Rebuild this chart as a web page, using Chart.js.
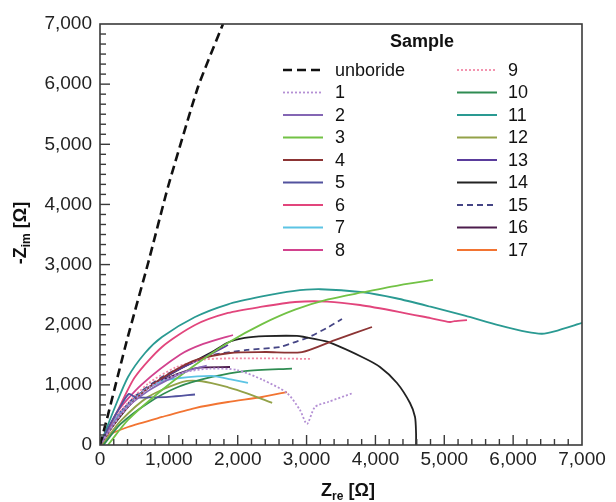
<!DOCTYPE html>
<html><head><meta charset="utf-8">
<script src="https://cdn.jsdelivr.net/npm/chart.js@4/dist/chart.umd.min.js"></script>
<style>html,body{margin:0;padding:0;background:#fff}canvas{display:block}</style>
</head><body>
<canvas id="c" width="616" height="502"></canvas>
<script>
// ---- data (Zre, -Zim) in ohm ----
const unboride = [[0,0],[100,430],[392,1746],[700,3030],[987,4290],[1423,5953],[1786,7000]];
const s1  = [[0,0],[300,500],[700,950],[1200,1200],[1600,1270],[1990,1247],[2367,1081],[2716,864],[2904,582],[3006,350],[3122,632],[3311,715],[3674,864]];
const s2  = [[0,0],[300,520],[700,900],[1100,1150],[1350,1260],[1550,1320]];
const s3  = [[116,0],[407,416],[900,914],[1380,1330],[1859,1700],[2353,2010],[2832,2250],[3311,2420],[3820,2540],[4357,2660],[4836,2744]];
const s4  = [[0,0],[300,500],[700,950],[1100,1250],[1409,1420],[1888,1530],[2400,1546],[2933,1546],[3400,1740],[3950,1962]];
const s5  = [[0,0],[150,350],[300,650],[420,850],[520,790],[700,790],[1000,800],[1380,840]];
const s6  = [[0,0],[44,83],[261,582],[508,1131],[900,1630],[1380,1995],[1859,2195],[2353,2300],[2832,2378],[3300,2385],[3776,2328],[4357,2211],[4800,2110],[5083,2045],[5150,2060],[5330,2078]];
const s7  = [[0,0],[200,400],[654,914],[900,1060],[1133,1110],[1626,1150],[1900,1090],[2149,1031]];
const s8  = [[0,0],[250,550],[600,1000],[1162,1500],[1500,1680],[1931,1829]];
const s9  = [[0,0],[300,560],[700,1020],[1100,1290],[1500,1420],[1931,1440],[2500,1440],[3079,1430]];
const s10 = [[50,0],[300,350],[700,700],[1133,964],[1626,1131],[2106,1230],[2788,1270]];
const s11 = [[0,0],[29,83],[218,632],[407,1131],[654,1530],[900,1796],[1380,2128],[1859,2340],[2353,2470],[2800,2560],[3200,2590],[3820,2540],[4300,2440],[4800,2300],[5300,2150],[5800,1990],[6200,1880],[6420,1850],[6600,1890],[7000,2030]];
const s12 = [[30,0],[300,400],[700,800],[1200,1050],[1480,1060],[1860,960],[2135,860],[2500,700]];
const s13 = [[0,0],[300,550],[700,950],[1100,1230],[1500,1450],[1859,1663]];
const s14 = [[0,0],[100,180],[407,632],[654,914],[1133,1247],[1626,1546],[1850,1700],[2100,1780],[2400,1810],[2860,1815],[2950,1800],[3311,1713],[3805,1463],[4066,1297],[4313,1031],[4502,698],[4575,466],[4590,200],[4590,0]];
const s15 = [[0,0],[200,380],[500,800],[900,1130],[1162,1280],[1641,1497],[2135,1580],[2614,1630],[2800,1700],[3006,1779],[3300,1950],[3514,2095]];
const s16 = [[0,0],[300,550],[700,950],[1100,1170],[1400,1280],[1888,1297]];
const s17 = [[0,0],[73,133],[407,299],[900,466],[1380,615],[1859,715],[2353,798],[2716,881]];

const seriesNames = ['unboride','1','2','3','4','5','6','7','8','9','10','11','12','13','14','15','16','17'];
const seriesData  = [unboride,s1,s2,s3,s4,s5,s6,s7,s8,s9,s10,s11,s12,s13,s14,s15,s16,s17];
const seriesColors = ['#111111','#b490d4','#8466b4','#72c245','#8c3434','#52529e','#e2457c','#5cc4e4','#d2428e','#f28aa8','#2f8c52','#2a9a92','#93a248','#5a3c9c','#222222','#454585','#4c1c4c','#f27432'];
const seriesDash = [[9,5],[2,2],[],[],[],[],[],[],[],[2,2],[],[],[],[],[],[6,4],[],[]];
const axisMax = 7000, majorStep = 1000;

const FONT = '"Liberation Sans", Arial, sans-serif';

const datasets = seriesNames.map((n,i)=>({
  label: n,
  data: seriesData[i].map(p=>({x:p[0],y:p[1]})),
  borderColor: seriesColors[i],
  backgroundColor: seriesColors[i],
  borderDash: seriesDash[i],
  borderWidth: i===0 ? 2.6 : 1.8,
  showLine: true, pointRadius: 0, tension: i===0 ? 0.15 : 0.25, fill: false
}));

const decor = {
  id: 'decor',
  afterDatasetsDraw(chart){
    const ctx = chart.ctx, a = chart.chartArea;
    const xs = chart.scales.x, ys = chart.scales.y;
    ctx.save();
    // frame
    ctx.strokeStyle = '#3a3a3a'; ctx.lineWidth = 1.6;
    ctx.strokeRect(a.left, a.top, a.right-a.left, a.bottom-a.top);
    // inward ticks
    ctx.lineWidth = 1.4;
    for (let k=1;k<35;k++){ const v=k*200; const px=xs.getPixelForValue(v);
      const L = (v%1000===0)?10:6;
      ctx.beginPath(); ctx.moveTo(px,a.bottom); ctx.lineTo(px,a.bottom-L); ctx.stroke(); }
    for (let k=1;k<42;k++){ const v=k*1000/6; const py=ys.getPixelForValue(v);
      const L = (k%6===0)?10:6;
      ctx.beginPath(); ctx.moveTo(a.left,py); ctx.lineTo(a.left+L,py); ctx.stroke(); }
    // legend
    ctx.fillStyle = '#111';
    ctx.font = 'bold 18px ' + FONT; ctx.textAlign='center'; ctx.textBaseline='middle';
    ctx.fillText('Sample', 422, 42);
    ctx.font = '18px ' + FONT; ctx.textAlign='left';
    chart.data.datasets.forEach((d,i)=>{
      const col = i<9 ? 0 : 1, row = i<9 ? i : i-9;
      const lx = col===0 ? 283 : 457, tx = col===0 ? 335 : 508;
      const y = 70 + row*22.5;
      ctx.strokeStyle = d.borderColor; ctx.lineWidth = d.borderWidth;
      ctx.setLineDash(d.borderDash||[]);
      ctx.beginPath(); ctx.moveTo(lx,y); ctx.lineTo(lx+40,y); ctx.stroke();
      ctx.setLineDash([]);
      ctx.fillStyle='#111'; ctx.fillText(d.label, tx, y+1);
    });
    // axis titles
    ctx.fillStyle='#111'; ctx.textBaseline='alphabetic'; ctx.textAlign='left';
    const drawTitle = (x,y,pre,main,sub,post)=>{
      ctx.font='bold 18px '+FONT;
      let w1=ctx.measureText(pre+main).width;
      ctx.font='bold 12px '+FONT; let w2=ctx.measureText(sub).width;
      ctx.font='bold 18px '+FONT; let w3=ctx.measureText(post).width;
      let x0 = x-(w1+w2+w3)/2;
      ctx.fillText(pre+main,x0,y);
      ctx.font='bold 12px '+FONT; ctx.fillText(sub,x0+w1,y+4);
      ctx.font='bold 18px '+FONT; ctx.fillText(post,x0+w1+w2,y);
    };
    drawTitle(348,496,'','Z','re',' [Ω]');
    ctx.translate(26,233); ctx.rotate(-Math.PI/2);
    drawTitle(0,0,'-','Z','im',' [Ω]');
    ctx.restore();
  }
};

new Chart(document.getElementById('c'), {
  type: 'scatter',
  data: { datasets },
  options: {
    responsive:false, animation:false, devicePixelRatio:1,
    layout:{ padding:{ top:24, right:34, left:0, bottom:0 } },
    plugins:{ legend:{display:false}, tooltip:{enabled:false} },
    scales:{
      x:{ type:'linear', min:0, max:axisMax,
        afterFit(s){ s.height = 57; },
        grid:{ display:false, drawTicks:false }, border:{display:false},
        ticks:{ stepSize:majorStep, padding:3, color:'#222', font:{family:FONT,size:19}, maxRotation:0 } },
      y:{ type:'linear', min:0, max:axisMax,
        afterFit(s){ s.width = 100; },
        grid:{ display:false, drawTicks:false }, border:{display:false},
        ticks:{ stepSize:majorStep, padding:8, color:'#222', font:{family:FONT,size:19} } }
    }
  },
  plugins:[decor]
});
</script>
</body></html>
